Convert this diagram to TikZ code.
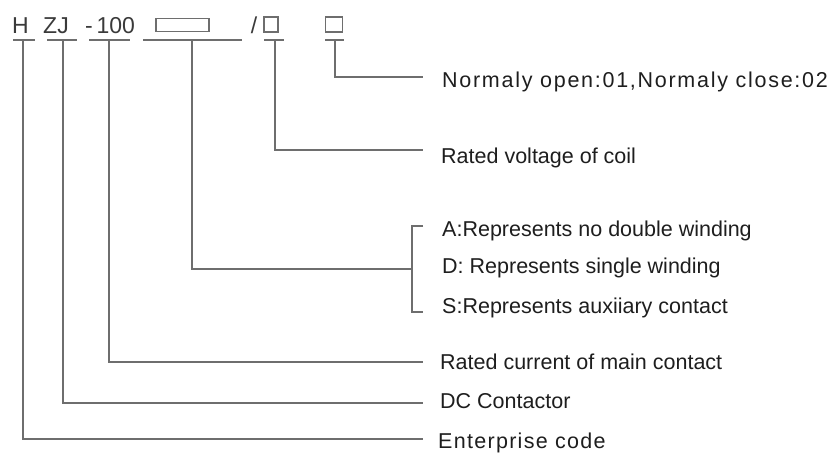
\documentclass[tikz,border=0pt]{standalone}
\usepackage{fontspec}
\setmainfont{Liberation Sans}
\definecolor{ln}{HTML}{6E6E6E}
\definecolor{tx}{HTML}{1E1E1E}
\definecolor{cd}{HTML}{3A3A3A}
\tikzset{
  lbl/.style={anchor=base west, inner sep=0pt, text=tx, font=\fontsize{21.5}{24}\selectfont},
  codetxt/.style={anchor=base, inner sep=0pt, text=cd, font=\fontsize{23}{25}\selectfont},
  sqbox/.style={draw=ln, line width=1.2pt, inner sep=0pt},
  ul/.style={draw=ln, line width=1.5pt},
  lead/.style={draw=ln, line width=1.3pt},
}
\begin{document}
\begin{tikzpicture}[x=1pt,y=-1pt]
\useasboundingbox[fill=white] (0,0) rectangle (832,456);
% top code row
\node[codetxt] (cH) at (20.5,33) {H};
\node[codetxt] (cZJ) at (56,33) {ZJ};
\node[codetxt] (c100) at (110,33) {-\,100};
\node[sqbox, minimum width=53pt, minimum height=13pt] (cBox) at (182.5,25) {};
\node[codetxt] (cSl) at (254,33) {/};
\node[sqbox, minimum width=14pt, minimum height=15pt] (cSq1) at (271,24.5) {};
\node[sqbox, minimum width=17pt, minimum height=15pt] (cSq2) at (334,24.5) {};
% underlines
\draw[ul] (13,40) -- (35,40);
\draw[ul] (47,40) -- (77,40);
\draw[ul] (89,40) -- (130,40);
\draw[ul] (143,40) -- (242,40);
\draw[ul] (264,40) -- (284,40);
\draw[ul] (325,40) -- (344,40);
\coordinate (uH) at (23,40);
\coordinate (uZJ) at (63,40);
\coordinate (u100) at (109,40);
\coordinate (uBox) at (192,40);
\coordinate (uSq1) at (275,40);
\coordinate (uSq2) at (335,40);
% labels
\node[lbl] (tN) at (442,87) {\addfontfeature{LetterSpace=8}Normaly open:01,Normaly close:02};
\node[lbl] (tV) at (441,163) {Rated voltage of coil};
\node[lbl] (tA) at (442,236) {A:Represents no double winding};
\node[lbl] (tD) at (442,273) {D: Represents single winding};
\node[lbl] (tS) at (442,313) {S:Represents auxiiary contact};
\node[lbl] (tC) at (440,369) {Rated current of main contact};
\node[lbl] (tDC) at (440,408) {DC Contactor};
\node[lbl] (tE) at (438,448) {\addfontfeature{LetterSpace=6}Enterprise code};
% leader ends
\coordinate (eN) at (423,77);
\coordinate (eV) at (423,150);
\coordinate (brM) at (412,269);
\coordinate (brT) at (423,226);
\coordinate (brB) at (423,312);
\coordinate (eC) at (423,362);
\coordinate (eDC) at (423,403);
\coordinate (eE) at (423,439);
% connectors
\draw[lead] (uSq2) |- (eN);
\draw[lead] (uSq1) |- (eV);
\draw[lead] (uBox) |- (brM);
\draw[lead] (brT) -- (brT -| brM) -- (brB -| brM) -- (brB);
\draw[lead] (u100) |- (eC);
\draw[lead] (uZJ) |- (eDC);
\draw[lead] (uH) |- (eE);
\end{tikzpicture}
\end{document}
